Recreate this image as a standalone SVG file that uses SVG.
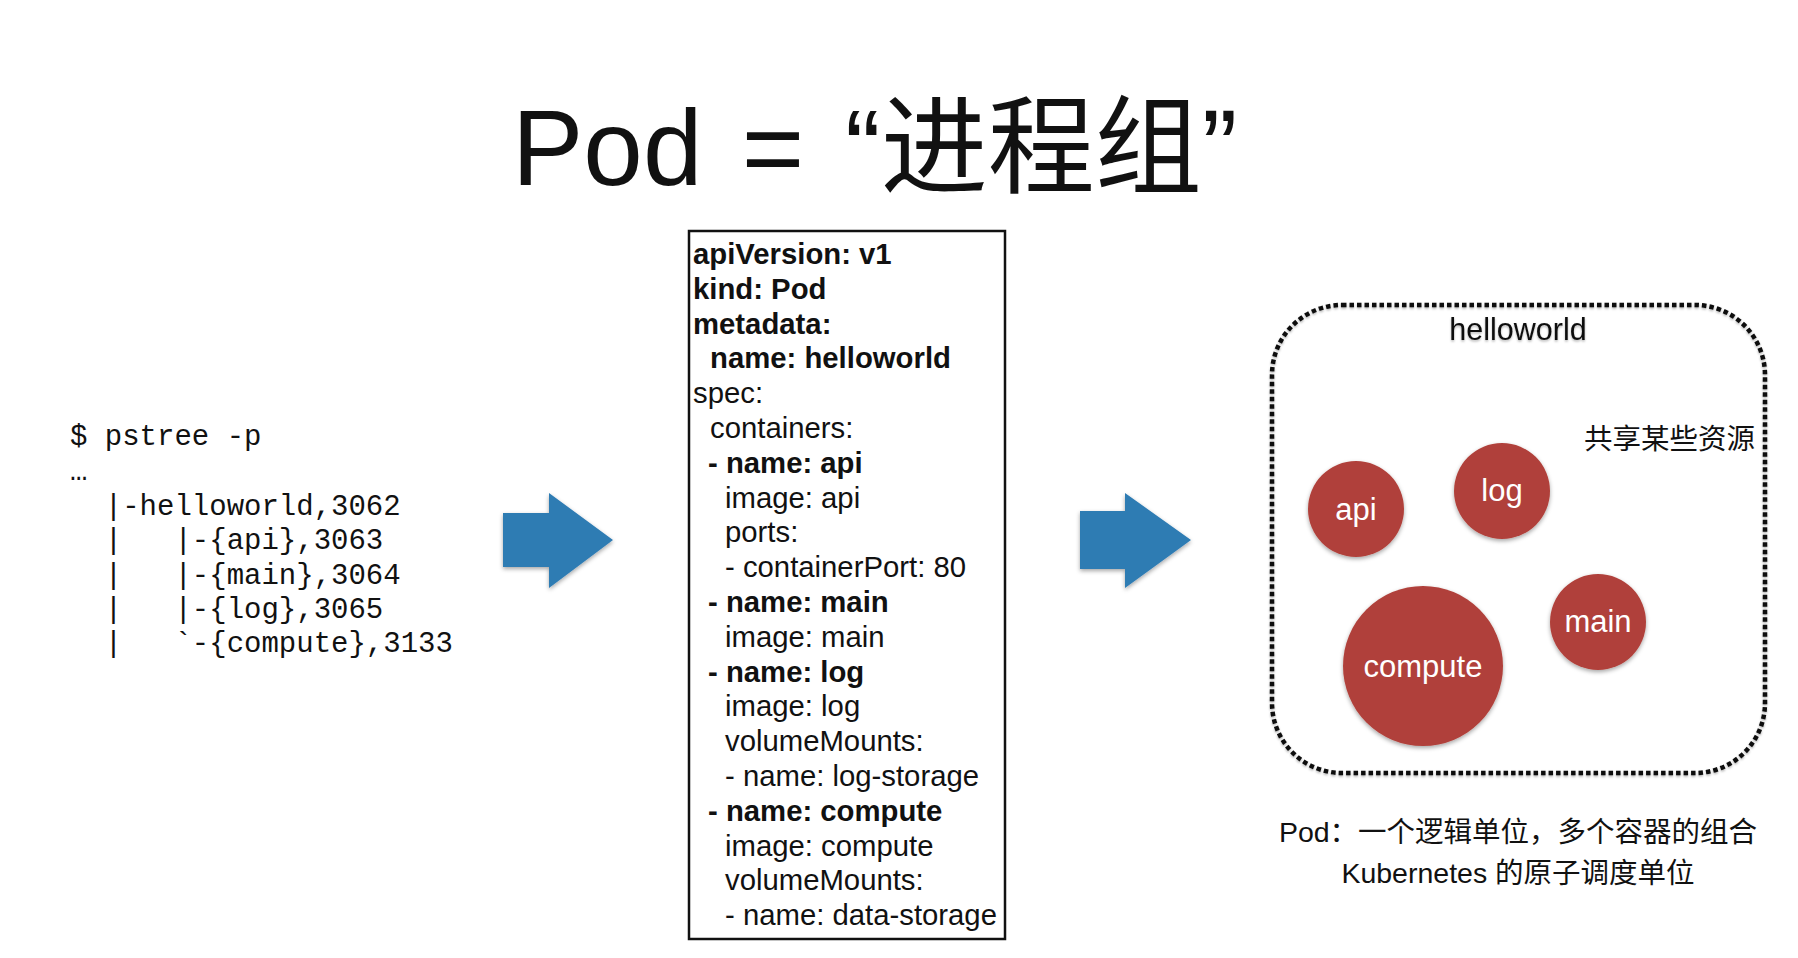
<svg xmlns="http://www.w3.org/2000/svg" width="1798" height="958" viewBox="0 0 1798 958">
  <defs>
    <filter id="shadow" x="-20%" y="-20%" width="140%" height="140%">
      <feDropShadow dx="0" dy="2" stdDeviation="2" flood-color="#000" flood-opacity="0.35"/>
    </filter>
    <filter id="softshadow" x="-5%" y="-5%" width="110%" height="110%">
      <feDropShadow dx="0" dy="1.5" stdDeviation="1.2" flood-color="#000" flood-opacity="0.3"/>
    </filter>
  </defs>
  <style>
    .sans { font-family: "Liberation Sans", "Noto Sans CJK SC", sans-serif; fill: #111; }
    .mono { font-family: "Liberation Mono", monospace; font-size: 29px; fill: #111; white-space: pre; }
    .yaml { font-family: "Liberation Sans", sans-serif; font-size: 29.3px; fill: #111; }
    .b { font-weight: bold; }
    .arrow { fill: #2E7BB3; filter: url(#shadow); }
    .pod { fill: #B0413A; filter: url(#shadow); }
    .podlabel { font-family: "Liberation Sans", sans-serif; font-size: 31px; fill: #fff; text-anchor: middle; }
    .caption { font-family: "Liberation Sans", "Noto Sans CJK SC", sans-serif; font-size: 28.5px; fill: #111; text-anchor: middle; }
  </style>
  <rect x="0" y="0" width="1798" height="958" fill="#fff"/>

  <g id="title" class="sans" font-size="107">
    <text x="512" y="185">Pod</text>
    <text x="773" y="185" text-anchor="middle">=</text>
    <text x="845" y="185">“进程组”</text>
  </g>

  <g id="pstree" class="mono">
    <text x="70" y="445" xml:space="preserve">$ pstree -p</text>
    <text x="70" y="480">…</text>
    <text x="70" y="515" xml:space="preserve">  |-helloworld,3062</text>
    <text x="70" y="549" xml:space="preserve">  |   |-{api},3063</text>
    <text x="70" y="584" xml:space="preserve">  |   |-{main},3064</text>
    <text x="70" y="618" xml:space="preserve">  |   |-{log},3065</text>
    <text x="70" y="652" xml:space="preserve">  |   `-{compute},3133</text>
  </g>

  <g id="connectors">
    <polygon id="arrow1" class="arrow" points="503,513 549,513 549,493 613,540 549,588 549,567 503,567"/>
    <polygon id="arrow2" class="arrow" points="1080,511 1125,511 1125,493 1191,540 1125,588 1125,569 1080,569"/>
  </g>

  <g id="yaml">
    <rect x="689" y="231" width="316" height="708" fill="#fff" stroke="#111" stroke-width="2.5"/>
    <g class="yaml">
      <text class="b" x="693" y="264">apiVersion: v1</text>
      <text class="b" x="693" y="298.8">kind: Pod</text>
      <text class="b" x="693" y="333.6">metadata:</text>
      <text class="b" x="710" y="368.4">name: helloworld</text>
      <text x="693" y="403.2">spec:</text>
      <text x="710" y="438">containers:</text>
      <text class="b" x="708" y="472.8">- name: api</text>
      <text x="725" y="507.6">image: api</text>
      <text x="725" y="542.4">ports:</text>
      <text x="725" y="577.2">- containerPort: 80</text>
      <text class="b" x="708" y="612">- name: main</text>
      <text x="725" y="646.8">image: main</text>
      <text class="b" x="708" y="681.6">- name: log</text>
      <text x="725" y="716.4">image: log</text>
      <text x="725" y="751.2">volumeMounts:</text>
      <text x="725" y="786">- name: log-storage</text>
      <text class="b" x="708" y="820.8">- name: compute</text>
      <text x="725" y="855.6">image: compute</text>
      <text x="725" y="890.4">volumeMounts:</text>
      <text x="725" y="925.2">- name: data-storage</text>
    </g>
  </g>

  <g id="pod-helloworld">
    <rect x="1272" y="305" width="493" height="468" rx="70" ry="70" fill="none" stroke="#111" stroke-width="4.5" stroke-dasharray="4.5 3" filter="url(#softshadow)"/>
    <text class="sans" x="1518" y="340" font-size="30.5" text-anchor="middle" filter="url(#softshadow)">helloworld</text>
    <text class="sans" x="1584" y="449" font-size="28.5">共享某些资源</text>
  </g>

  <g id="node-api">
    <circle class="pod" cx="1356" cy="509" r="48"/>
    <text class="podlabel" x="1356" y="520">api</text>
  </g>
  <g id="node-log">
    <circle class="pod" cx="1502" cy="491" r="48"/>
    <text class="podlabel" x="1502" y="501">log</text>
  </g>
  <g id="node-compute">
    <circle class="pod" cx="1423" cy="666" r="80"/>
    <text class="podlabel" x="1423" y="677">compute</text>
  </g>
  <g id="node-main">
    <circle class="pod" cx="1598" cy="622" r="48"/>
    <text class="podlabel" x="1598" y="632" font-size="30">main</text>
  </g>

  <g id="caption">
    <text class="caption" x="1518" y="842">Pod：一个逻辑单位，多个容器的组合</text>
    <text class="caption" x="1518" y="883">Kubernetes 的原子调度单位</text>
  </g>
</svg>
